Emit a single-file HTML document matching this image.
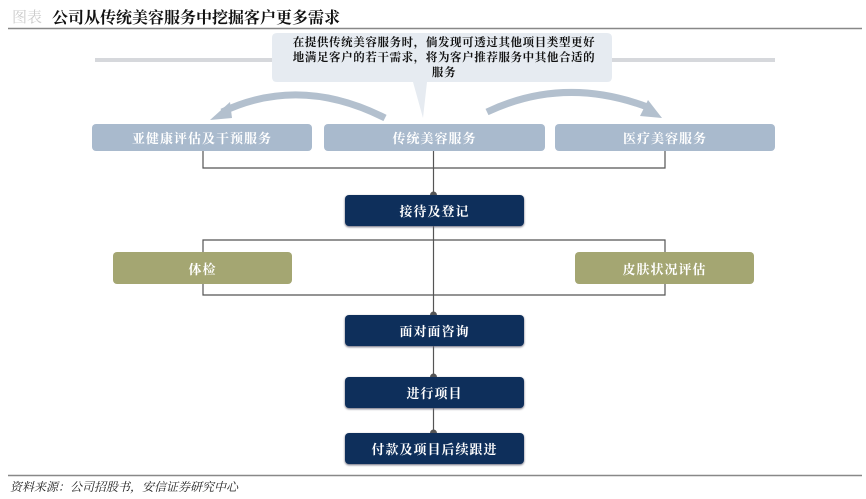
<!DOCTYPE html>
<html><head><meta charset="utf-8"><style>
body{margin:0;width:866px;height:499px;background:#fff;position:relative;overflow:hidden;font-family:"Liberation Serif","Noto Serif CJK SC",serif;}
.b{position:absolute;display:flex;align-items:center;justify-content:center;color:#fff;font-size:13px;border-radius:4px;font-weight:bold;letter-spacing:1px}
.t{background:#a9bacd}
.d{background:#0e2f5b;box-shadow:0 1px 2px #667}
.o{background:#a4a672}
</style></head><body>
<div style="position:absolute;left:12px;top:6px;font-size:15px;color:#ccc;">图表</div>
<div style="position:absolute;left:52px;top:5px;font-size:16px;color:#111;font-weight:bold">公司从传统美容服务中挖掘客户更多需求</div>
<svg width="866" height="499" style="position:absolute;left:0;top:0">
<line x1="8" y1="28.5" x2="862" y2="28.5" stroke="#888" stroke-width="1.5"/>
<line x1="95" y1="60" x2="775" y2="60" stroke="#d6d8dc" stroke-width="4"/>
<path d="M272 38 q0-5 5-5 h330 q5 0 5 5 v39 q0 5-5 5 h-180 l-4 36 l-10-36 h-136 q-5 0-5-5z" fill="#e6ebf1"/>
<path d="M385 118 Q300 75 222 112" fill="none" stroke="#b3c0ce" stroke-width="7"/>
<path d="M210 120 l20-18 l2 16z" fill="#b3c0ce"/>
<path d="M487 112 Q565 75 650 108" fill="none" stroke="#b3c0ce" stroke-width="7"/>
<path d="M662 118 l-22-2 l8-16z" fill="#b3c0ce"/>
<g stroke="#555" stroke-width="1.2" fill="none">
<path d="M203 150 V168 H665 V150 M433.5 150 V452"/>
<path d="M203 240 H665 V295 H203 Z"/>
</g>
<g fill="#555"><circle cx="433.5" cy="195" r="3.5"/><circle cx="433.5" cy="315" r="3.5"/><circle cx="433.5" cy="377" r="3.5"/><circle cx="433.5" cy="433" r="3.5"/></g>
<line x1="8" y1="475.5" x2="862" y2="475.5" stroke="#888" stroke-width="1.5"/>
</svg>
<div style="position:absolute;left:288px;top:36px;width:312px;text-align:center;font-size:11.5px;line-height:15px;color:#111;font-weight:bold;letter-spacing:0.6px">在提供传统美容服务时，倘发现可透过其他项目类型更好地满足客户的若干需求，将为客户推荐服务中其他合适的服务</div>
<div class="b t" style="left:92px;top:124px;width:220px;height:27px">亚健康评估及干预服务</div>
<div class="b t" style="left:324px;top:124px;width:221px;height:27px">传统美容服务</div>
<div class="b t" style="left:555px;top:124px;width:220px;height:27px">医疗美容服务</div>
<div class="b d" style="left:345px;top:195px;width:179px;height:31px">接待及登记</div>
<div class="b o" style="left:113px;top:252px;width:179px;height:32px">体检</div>
<div class="b o" style="left:575px;top:252px;width:179px;height:32px">皮肤状况评估</div>
<div class="b d" style="left:345px;top:315px;width:179px;height:31px">面对面咨询</div>
<div class="b d" style="left:345px;top:377px;width:179px;height:31px">进行项目</div>
<div class="b d" style="left:345px;top:433px;width:179px;height:31px">付款及项目后续跟进</div>
<div style="position:absolute;left:10px;top:478px;font-size:12px;font-style:italic;color:#222">资料来源：公司招股书，安信证券研究中心</div>
</body></html>
